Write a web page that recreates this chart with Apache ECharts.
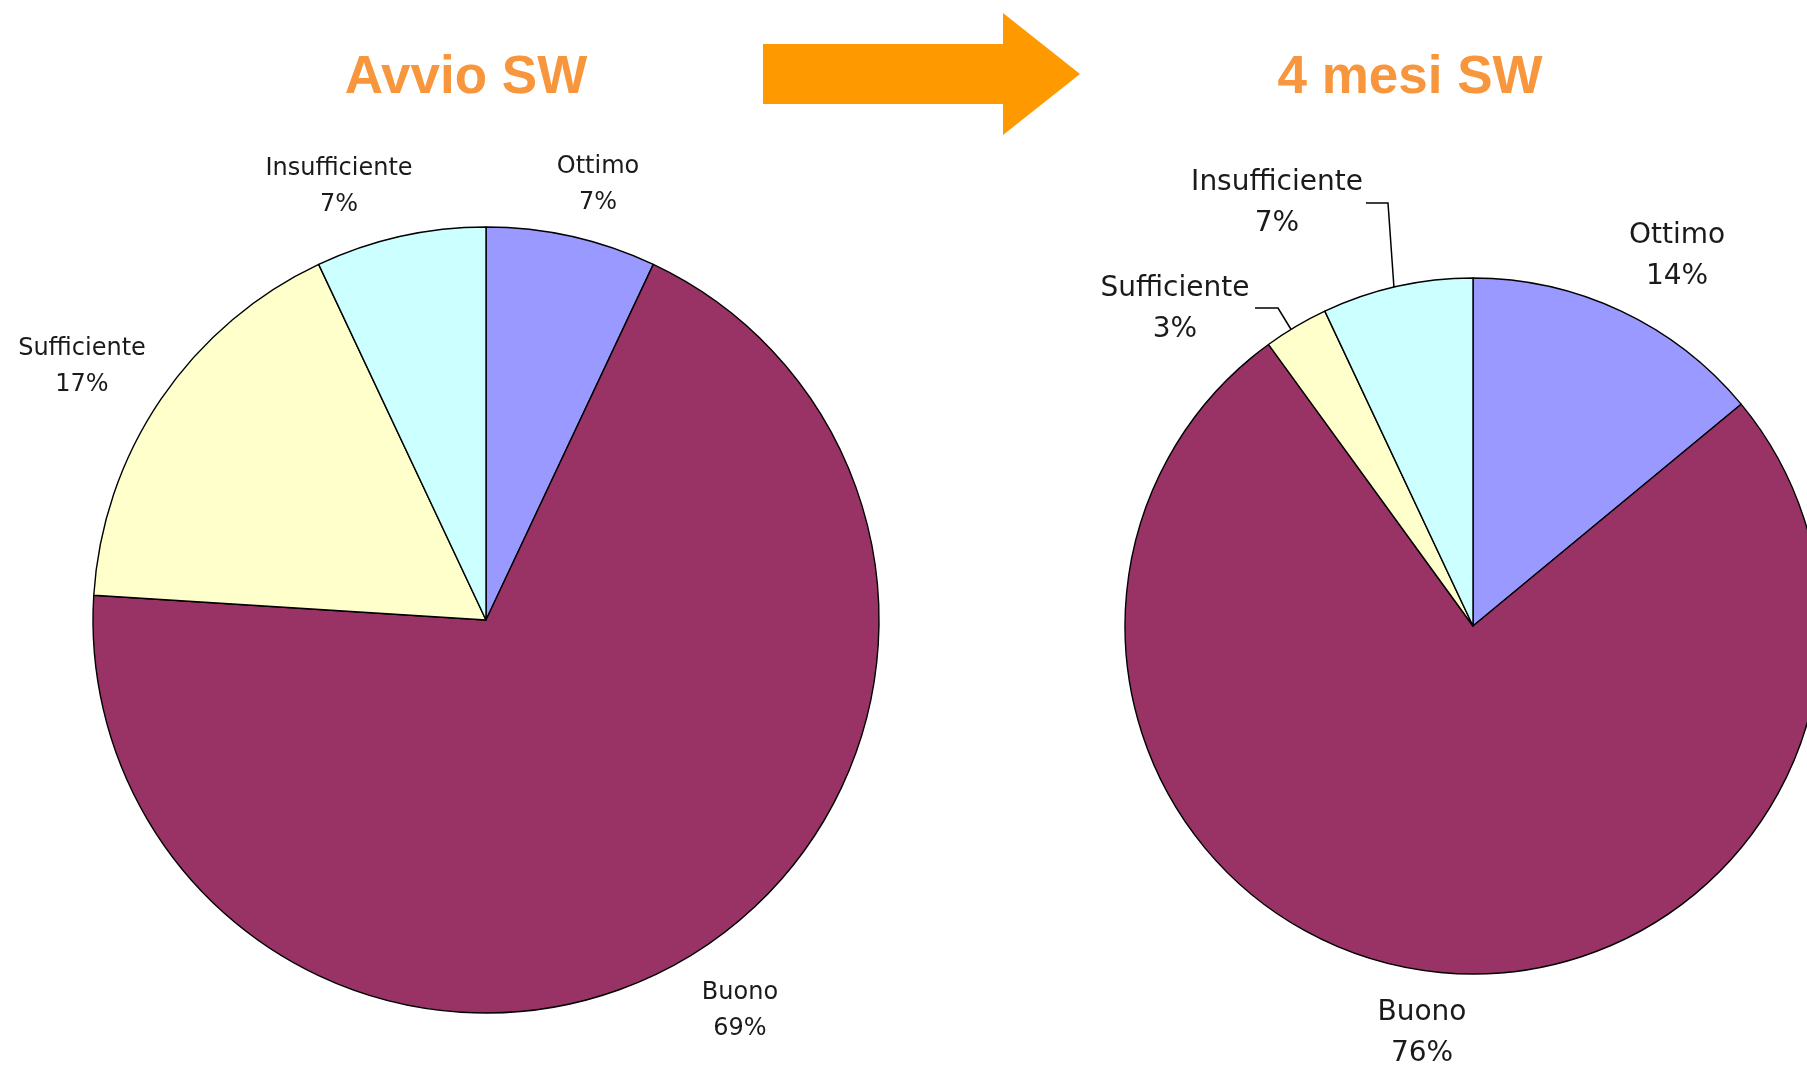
<!DOCTYPE html>
<html>
<head>
<meta charset="utf-8">
<title>Avvio SW / 4 mesi SW</title>
<script src="https://cdn.jsdelivr.net/npm/echarts@6/dist/echarts.min.js"></script>
<style>
  html, body { margin: 0; padding: 0; background: #fff; }
  #chart { width: 1807px; height: 1066px; }
</style>
</head>
<body>
<div id="chart"></div>
<script>
// ── data ──
const categories = ['Ottimo', 'Buono', 'Sufficiente', 'Insufficiente']
const avvioValues = [7, 69, 17, 7]
const quattroMesiValues = [14, 76, 3, 7]
const titles = ['Avvio SW', '4 mesi SW']

// Excel-style palette
const colors = ['#9999FF', '#993366', '#FFFFCC', '#CCFFFF']

// label placement (block centre) per pie, per slice
const labelPos = [
  [[598, 185], [740, 1011], [82, 367], [339, 187]],
  [[1677, 256], [1422, 1033], [1175, 309], [1277, 203]]
]
// leader lines only on the right pie, for the two thin slices
const leaderLines = {
  '1-2': [[1292, 331], [1278, 308], [1255, 308]],
  '1-3': [[1394, 288], [1388, 203], [1366, 203]]
}

const chart = echarts.init(document.getElementById('chart'))

function makeData(values, seriesIndex) {
  return categories.map((name, i) => ({
    name,
    value: values[i],
    itemStyle: { color: colors[i] },
    labelLine: { show: !!leaderLines[seriesIndex + '-' + i] }
  }))
}

function pieSeries(values, idx, center, radius, fontSize, lineHeight) {
  return {
    type: 'pie',
    center,
    radius,
    startAngle: 90,
    clockwise: true,
    silent: true,
    animation: false,
    data: makeData(values, idx),
    itemStyle: { borderColor: '#000', borderWidth: 1.4 },
    label: {
      show: true,
      position: 'outside',
      formatter: '{b}\n{c}%',
      fontFamily: 'DejaVu Sans',
      fontSize,
      lineHeight,
      color: '#1a1a1a',
      overflow: 'none'
    },
    labelLine: {
      show: false,
      lineStyle: { color: '#000', width: 1.5 }
    },
    labelLayout: (params) => {
      const p = labelPos[idx][params.dataIndex]
      const out = { x: p[0], y: p[1], align: 'center', verticalAlign: 'middle', width: 260 }
      const pts = leaderLines[idx + '-' + params.dataIndex]
      if (pts) out.labelLinePoints = pts
      return out
    },
    emphasis: { disabled: true }
  }
}

const arrowColor = '#FF9900'
const titleColor = '#F7963C'

chart.setOption({
  backgroundColor: '#fff',
  animation: false,
  graphic: [
    {
      type: 'text',
      style: {
        text: titles[0], x: 466, y: 78,
        textAlign: 'center', textVerticalAlign: 'middle',
        font: 'bold 53px "Liberation Sans", Arial, sans-serif',
        fill: titleColor
      }
    },
    {
      type: 'text',
      style: {
        text: titles[1], x: 1410, y: 78,
        textAlign: 'center', textVerticalAlign: 'middle',
        font: 'bold 53px "Liberation Sans", Arial, sans-serif',
        fill: titleColor
      }
    },
    {
      type: 'polygon',
      shape: {
        points: [[763, 44], [1003, 44], [1003, 13], [1080, 74], [1003, 135], [1003, 104], [763, 104]]
      },
      style: { fill: arrowColor }
    }
  ],
  series: [
    pieSeries(avvioValues, 0, [486, 620], 393, 24, 36),
    pieSeries(quattroMesiValues, 1, [1473, 626], 348, 28, 41)
  ]
})
</script>
</body>
</html>
